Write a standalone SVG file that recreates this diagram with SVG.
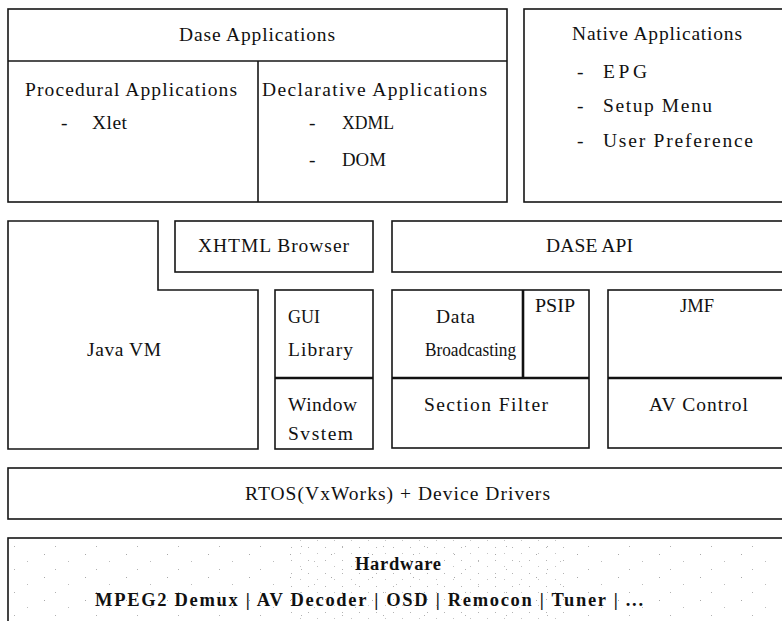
<svg xmlns="http://www.w3.org/2000/svg" width="782" height="621" viewBox="0 0 782 621">
  <style>
    .box { fill: #fff; stroke: #161616; stroke-width: 1.6; }
    .div { stroke: #161616; stroke-width: 1.6; fill: none; }
    .thick { stroke: #111; stroke-width: 2.6; fill: none; }
    text { font-family: "Liberation Serif", "DejaVu Serif", serif; font-size: 19.5px; fill: #111; }
    .bold { font-weight: bold; font-size: 18.5px; }
  </style>
  <defs>
    <!-- light scanner-like grain inside the hardware block -->
    <pattern id="grain" width="41" height="23" patternUnits="userSpaceOnUse">
      <rect x="3" y="2" width="1" height="1" fill="#a8a8a8"/>
      <rect x="27" y="9" width="1" height="1" fill="#bcbcbc"/>
      <rect x="14" y="17" width="1" height="1" fill="#b2b2b2"/>
    </pattern>
    <pattern id="grain2" width="17" height="13" patternUnits="userSpaceOnUse">
      <rect x="2" y="1" width="1" height="1" fill="#b4b4b4"/>
      <rect x="11" y="7" width="1" height="1" fill="#c4c4c4"/>
    </pattern>
  </defs>

  <rect width="782" height="621" fill="#fff"/>

  <!-- application layer -->
  <g id="dase-applications">
    <rect class="box" x="8" y="9" width="499" height="193"/>
    <line class="div" x1="8" y1="61" x2="507" y2="61"/>
    <line class="div" x1="258" y1="61" x2="258" y2="202"/>
    <text x="179" y="41" textLength="156" lengthAdjust="spacing">Dase Applications</text>
  </g>
  <g id="procedural-applications">
    <text x="25" y="96" textLength="212" lengthAdjust="spacing">Procedural Applications</text>
    <text x="61" y="129">-</text>
    <text x="92" y="129" textLength="35" lengthAdjust="spacing">Xlet</text>
  </g>
  <g id="declarative-applications">
    <text x="262" y="96" textLength="225" lengthAdjust="spacing">Declarative Applications</text>
    <text x="309" y="129">-</text>
    <text x="342" y="129" textLength="52" lengthAdjust="spacingAndGlyphs">XDML</text>
    <text x="309" y="166">-</text>
    <text x="342" y="166" textLength="44" lengthAdjust="spacingAndGlyphs">DOM</text>
  </g>
  <g id="native-applications">
    <rect class="box" x="524" y="9" width="268" height="193"/>
    <text x="572" y="40" textLength="170" lengthAdjust="spacing">Native Applications</text>
    <text x="577" y="78">-</text>
    <text x="603" y="78" textLength="44" lengthAdjust="spacing">EPG</text>
    <text x="577" y="112">-</text>
    <text x="603" y="112" textLength="109" lengthAdjust="spacing">Setup Menu</text>
    <text x="577" y="147">-</text>
    <text x="603" y="147" textLength="150" lengthAdjust="spacing">User Preference</text>
  </g>

  <!-- middleware layer -->
  <g id="java-vm">
    <path class="box" d="M8 221 H158 V290 H258 V449 H8 Z"/>
    <text x="87" y="356" textLength="74" lengthAdjust="spacing">Java VM</text>
  </g>
  <g id="xhtml-browser">
    <rect class="box" x="175" y="221" width="198" height="51"/>
    <text x="198" y="252" textLength="151" lengthAdjust="spacing">XHTML Browser</text>
  </g>
  <g id="dase-api">
    <rect class="box" x="392" y="221" width="400" height="51"/>
    <text x="546" y="252" textLength="87" lengthAdjust="spacing">DASE API</text>
  </g>
  <g id="gui-window">
    <rect class="box" x="275" y="290" width="98" height="159"/>
    <line class="thick" x1="275" y1="378" x2="373" y2="378"/>
    <text x="288" y="323" textLength="32" lengthAdjust="spacingAndGlyphs">GUI</text>
    <text x="288" y="356" textLength="65" lengthAdjust="spacing">Library</text>
    <text x="288" y="411" textLength="69" lengthAdjust="spacing">Window</text>
    <text x="288" y="440" textLength="65" lengthAdjust="spacing">Svstem</text>
  </g>
  <g id="data-broadcasting">
    <rect class="box" x="392" y="290" width="197" height="158"/>
    <line class="thick" x1="392" y1="378" x2="589" y2="378"/>
    <line class="thick" x1="523" y1="290" x2="523" y2="378"/>
    <text x="436" y="323" textLength="39" lengthAdjust="spacing">Data</text>
    <text x="425" y="356" textLength="91" lengthAdjust="spacingAndGlyphs">Broadcasting</text>
    <text x="535" y="312" textLength="40" lengthAdjust="spacingAndGlyphs">PSIP</text>
    <text x="424" y="411" textLength="124" lengthAdjust="spacing">Section Filter</text>
  </g>
  <g id="jmf">
    <rect class="box" x="608" y="290" width="184" height="158"/>
    <line class="thick" x1="608" y1="378" x2="792" y2="378"/>
    <text x="680" y="312" textLength="34" lengthAdjust="spacingAndGlyphs">JMF</text>
    <text x="649" y="411" textLength="99" lengthAdjust="spacing">AV Control</text>
  </g>

  <!-- OS layer -->
  <g id="rtos">
    <rect class="box" x="8" y="468" width="784" height="51"/>
    <text x="245" y="500" textLength="305" lengthAdjust="spacing">RTOS(VxWorks) + Device Drivers</text>
  </g>

  <!-- hardware layer -->
  <g id="hardware">
    <rect class="box" x="8" y="538" width="784" height="95"/>
    <rect x="10" y="540" width="780" height="81" fill="url(#grain)"/>
    <rect x="290" y="540" width="280" height="81" fill="url(#grain2)"/>
    <text class="bold" x="355" y="570" textLength="86" lengthAdjust="spacing">Hardware</text>
    <text class="bold" x="95" y="606" textLength="548" lengthAdjust="spacing">MPEG2 Demux | AV Decoder | OSD | Remocon | Tuner | ...</text>
  </g>
</svg>
